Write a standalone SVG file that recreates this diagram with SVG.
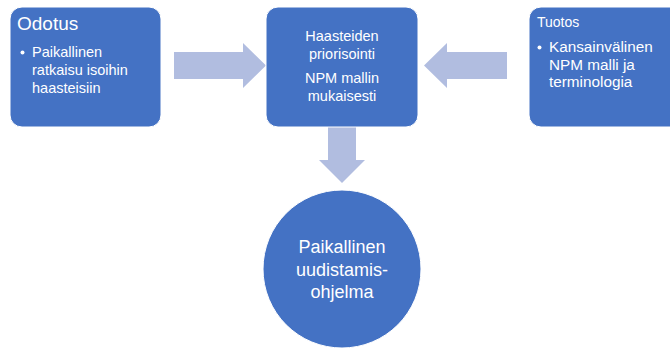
<svg xmlns="http://www.w3.org/2000/svg" width="670" height="348" viewBox="0 0 670 348">
  <style>
    .box { fill: #4472C4; stroke: #ffffff; stroke-width: 1; }
    .arrow { fill: #B1BDE0; }
    text { font-family: "Liberation Sans", Arial, sans-serif; fill: #ffffff; }
    .t { font-size: 14.5px; }
    .r { font-size: 15.3px; }
    .c { text-anchor: middle; }
  </style>
  <rect width="670" height="348" fill="#ffffff"/>

  <g id="connectors">
    <polygon class="arrow" points="174,52 243,52 243,43 266,65.5 243,88 243,79 174,79"/>
    <polygon class="arrow" points="507,52 447,52 447,43 424,65.5 447,88 447,79 507,79"/>
    <polygon class="arrow" points="328,127 356,127 356,160 365,160 342,183 319,160 328,160"/>
  </g>

  <g id="odotus">
    <rect class="box" x="10" y="7" width="151" height="120" rx="12"/>
    <text x="17" y="30" font-size="19">Odotus</text>
    <circle cx="22.5" cy="52.5" r="2" fill="#ffffff"/>
    <text class="t" x="32" y="57">Paikallinen</text>
    <text class="t" x="32" y="75">ratkaisu isoihin</text>
    <text class="t" x="32" y="93">haasteisiin</text>
  </g>

  <g id="priorisointi">
    <rect class="box" x="266" y="7" width="152" height="120" rx="12"/>
    <text class="t c" x="342" y="41">Haasteiden</text>
    <text class="t c" x="342" y="59">priorisointi</text>
    <text class="t c" x="342" y="83">NPM mallin</text>
    <text class="t c" x="342" y="101">mukaisesti</text>
  </g>

  <g id="tuotos">
    <rect class="box" x="529" y="7" width="160" height="120" rx="12"/>
    <text x="537" y="27" font-size="14">Tuotos</text>
    <circle cx="539.5" cy="47.5" r="2" fill="#ffffff"/>
    <text class="r" x="549" y="52">Kansainvälinen</text>
    <text class="r" x="549" y="70">NPM malli ja</text>
    <text class="r" x="549" y="87">terminologia</text>
  </g>

  <g id="ohjelma">
    <circle class="box" cx="342" cy="269" r="79"/>
    <text class="c" x="342" y="253" font-size="18">Paikallinen</text>
    <text class="c" x="342" y="276" font-size="18">uudistamis-</text>
    <text class="c" x="342" y="298" font-size="18">ohjelma</text>
  </g>
</svg>
